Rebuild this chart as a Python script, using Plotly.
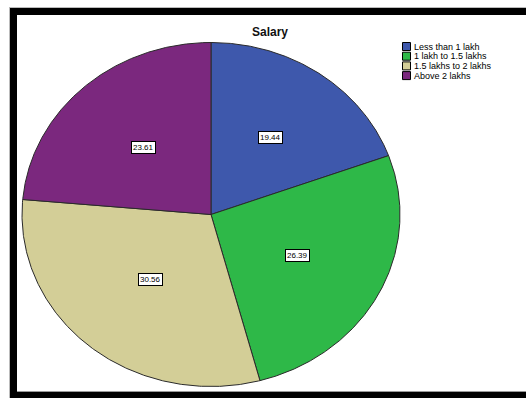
import numpy as np
import plotly.graph_objects as go

# Salary distribution (percent of respondents)
categories = ["Less than 1 lakh", "1 lakh to 1.5 lakhs", "1.5 lakhs to 2 lakhs", "Above 2 lakhs"]
percent = [19.44, 26.39, 30.56, 23.61]
colors = ["#3E58AC", "#2EB848", "#D3CE97", "#7B287E"]
title_text = "Salary"

W, H = 526, 398
FONT = "Liberation Sans, Arial, sans-serif"


def px(x):
    return x / W


def py(y):
    return 1 - y / H


fig = go.Figure()

# Pie wedges drawn as filled polygons on unit-circle data axes; the
# axis ranges stretch the circle into the elliptical pie.
total = sum(percent)
start = 0.0
annotations = []
for cat, val, col in zip(categories, percent, colors):
    a0 = start / total * 2 * np.pi
    a1 = (start + val) / total * 2 * np.pi
    t = np.linspace(a0, a1, 240)
    xs = np.concatenate([[0.0], np.sin(t), [0.0]])
    ys = np.concatenate([[0.0], np.cos(t), [0.0]])
    fig.add_trace(go.Scatter(
        x=xs, y=ys, mode="lines", fill="toself", fillcolor=col,
        line=dict(color="#2a2a2a", width=1), name=cat,
        showlegend=False, hoverinfo="skip",
    ))
    # value label near the wedge centroid
    mid = (a0 + a1) / 2
    half = (a1 - a0) / 2
    r = 0.87 * 2 * np.sin(half) / (3 * half)
    annotations.append(dict(
        x=r * np.sin(mid), y=r * np.cos(mid), xref="x", yref="y",
        text=f"{val:.2f}", showarrow=False,
        font=dict(family=FONT, size=8, color="black"),
        bgcolor="white", bordercolor="black", borderwidth=1, borderpad=1,
    ))
    start += val

# Title
annotations.append(dict(
    x=px(270), y=py(32), xref="paper", yref="paper", text="<b>" + title_text + "</b>",
    showarrow=False, xanchor="center", yanchor="middle",
    font=dict(family=FONT, size=12, color="#111"),
))


def band(xa, xb, ya, yb, color, layer="below"):
    return dict(type="rect", xref="paper", yref="paper",
                x0=px(xa), x1=px(xb), y0=py(yb), y1=py(ya),
                fillcolor=color, line=dict(width=0), layer=layer)


# Black frame (top, left and bottom bands) with a faint grey outer edge
shapes = [
    band(9, W, 7, 8, "#bbbbbb"),
    band(9, 10, 7, H, "#bbbbbb"),
    band(10, W, 8, 15, "black"),
    band(10, 17, 8, H, "black"),
    band(17, W, 391, 391.8, "#bbbbbb"),
    band(10, W, 391.8, H, "black"),
]

# Legend: colour swatches with labels
for i, (cat, col) in enumerate(zip(categories, colors)):
    top = 42.5 + i * 9.7
    shapes.append(dict(type="rect", xref="paper", yref="paper",
                       x0=px(402.5), x1=px(410.5), y0=py(top + 8), y1=py(top),
                       fillcolor=col, line=dict(color="black", width=1), layer="above"))
    annotations.append(dict(
        x=px(412), y=py(top + 4), xref="paper", yref="paper", text=cat,
        showarrow=False, xanchor="left", yanchor="middle",
        font=dict(family=FONT, size=9, color="black"),
    ))

# Map unit circle onto an ellipse centred at (211, 214.5) px, rx=189, ry=172
cx, cy, rx, ry = 211.0, 214.5, 189.0, 172.0
x0 = -(cx) / rx
x1 = (W - cx) / rx
y1 = cy / ry
y0 = -(H - cy) / ry

fig.update_layout(
    width=W, height=H, margin=dict(l=0, r=0, t=0, b=0),
    paper_bgcolor="white", plot_bgcolor="white",
    xaxis=dict(range=[x0, x1], visible=False),
    yaxis=dict(range=[y0, y1], visible=False),
    shapes=shapes, annotations=annotations, showlegend=False,
)

fig.write_html("out.html", config=dict(displayModeBar=False, staticPlot=True))
